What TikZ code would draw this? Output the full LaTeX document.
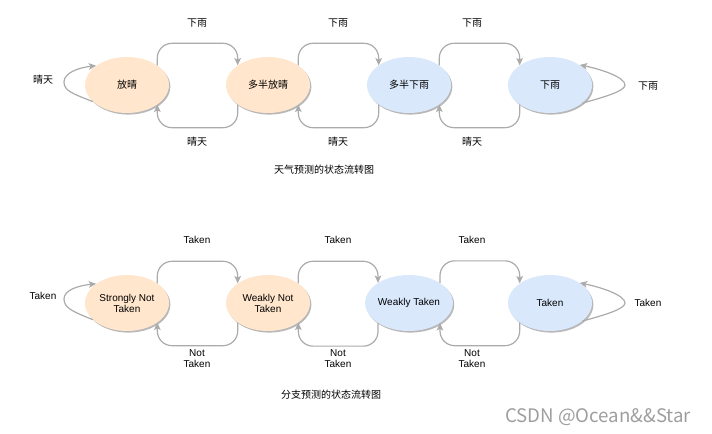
\documentclass[tikz,border=0pt]{standalone}
\usepackage{fontspec}
\setmainfont{Liberation Sans}
\newfontfamily\cjk{Noto Sans CJK SC}
\usepackage{tikz}
\usetikzlibrary{shapes.geometric}
\usetikzlibrary{arrows.meta}
\usetikzlibrary{shadows}
\definecolor{sunfill}{HTML}{FFE6CC}
\definecolor{rainfill}{HTML}{DAE8FC}
\definecolor{edgegray}{HTML}{ABABAB}

\begin{document}
\begin{tikzpicture}[x=0.75pt,y=0.75pt,yscale=-1,xscale=1,
  font=\fontsize{7.5}{8.25}\selectfont,
  state/.style={ellipse, minimum width=63pt, minimum height=42pt, inner sep=0pt, align=center,
    drop shadow={shadow xshift=1pt, shadow yshift=-1.2pt, fill=black!28, opacity=1}},
  edge/.style={draw=edgegray, line width=0.9pt,
    -{Stealth[length=5.5pt,width=5pt,inset=1.3pt]}},
  hop/.style={edge, rounded corners=11pt},
  lbl/.style={align=center, inner sep=0pt}]
\useasboundingbox (0,0) rectangle (712,434);

%Shape: Ellipse [weather]
\node[state, fill=sunfill] (w1) at (127,85) {\cjk 放晴};
\node[state, fill=sunfill] (w2) at (268,85) {\cjk 多半放晴};
\node[state, fill=rainfill] (w3) at (409,85) {\cjk 多半下雨};
\node[state, fill=rainfill] (w4) at (550,85) {\cjk 下雨};

%Straight Lines [weather]
\draw[hop] (w1.33) -- ++(0,-22) -| (w2.147);
\draw[hop] (w2.33) -- ++(0,-22) -| (w3.147);
\draw[hop] (w3.33) -- ++(0,-22) -| (w4.147);
\draw[hop] (w2.213) -- ++(0,23) -| (w1.-33);
\draw[hop] (w3.213) -- ++(0,23) -| (w2.-33);
\draw[hop] (w4.213) -- ++(0,23) -| (w3.-33);

%Curve Lines [weather]
\coordinate (wloopL) at (64,82);
\coordinate (wloopR) at (625,85);
\draw[edge] (w1.206) .. controls +(-20,-8) and +(0,9) .. (wloopL) .. controls +(0,-9) and +(-18,2) .. (w1.148);
\draw[edge] (w4.-29) .. controls +(22,-6) and +(0,6) .. (wloopR) .. controls +(0,-8) and +(20,4) .. (w4.34);

% Text Node
\node[lbl] (wl12) at (197,23) {\cjk 下雨};
% Text Node
\node[lbl] (wl23) at (338,23) {\cjk 下雨};
% Text Node
\node[lbl] (wl34) at (472,23) {\cjk 下雨};
% Text Node
\node[lbl] (wl21) at (197,142) {\cjk 晴天};
% Text Node
\node[lbl] (wl32) at (338,142) {\cjk 晴天};
% Text Node
\node[lbl] (wl43) at (472,142) {\cjk 晴天};
% Text Node
\node[lbl] (wl11) at (43,80) {\cjk 晴天};
% Text Node
\node[lbl] (wl44) at (648,86) {\cjk 下雨};
% Text Node
\node[lbl] (wcap) at (324,170) {\cjk 天气预测的状态流转图};

%Shape: Ellipse [branch]
\node[state, fill=sunfill] (b1) at (127,303) {Strongly Not\\Taken};
\node[state, fill=sunfill] (b2) at (268,303) {Weakly Not\\Taken};
\node[state, fill=rainfill] (b3) at (409,303) {Weakly Taken};
\node[state, fill=rainfill] (b4) at (550,303) {Taken};

%Straight Lines [branch]
\draw[hop] (b1.33) -- ++(0,-22) -| (b2.147);
\draw[hop] (b2.33) -- ++(0,-22) -| (b3.147);
\draw[hop] (b3.33) -- ++(0,-22) -| (b4.147);
\draw[hop] (b2.213) -- ++(0,23) -| (b1.-33);
\draw[hop] (b3.213) -- ++(0,23) -| (b2.-33);
\draw[hop] (b4.213) -- ++(0,23) -| (b3.-33);

%Curve Lines [branch]
\coordinate (bloopL) at (64,299);
\coordinate (bloopR) at (625,303);
\draw[edge] (b1.206) .. controls +(-20,-8) and +(0,9) .. (bloopL) .. controls +(0,-9) and +(-18,2) .. (b1.148);
\draw[edge] (b4.-29) .. controls +(22,-6) and +(0,6) .. (bloopR) .. controls +(0,-8) and +(20,4) .. (b4.34);

% Text Node
\node[lbl] (bl12) at (197,240) {Taken};
% Text Node
\node[lbl] (bl23) at (338,240) {Taken};
% Text Node
\node[lbl] (bl34) at (472,240) {Taken};
% Text Node
\node[lbl] (bl21) at (197,359) {Not\\Taken};
% Text Node
\node[lbl] (bl32) at (338,359) {Not\\Taken};
% Text Node
\node[lbl] (bl43) at (472,359) {Not\\Taken};
% Text Node
\node[lbl] (bl11) at (43,296) {Taken};
% Text Node
\node[lbl] (bl44) at (648,303) {Taken};
% Text Node
\node[lbl] (bcap) at (331,395) {\cjk 分支预测的状态流转图};

% Text Node
\node[lbl, text=black!38, font=\cjk\fontsize{14}{16}\selectfont] (mark) at (598,417) {CSDN @Ocean\&\&Star};

\end{tikzpicture}
\end{document}
